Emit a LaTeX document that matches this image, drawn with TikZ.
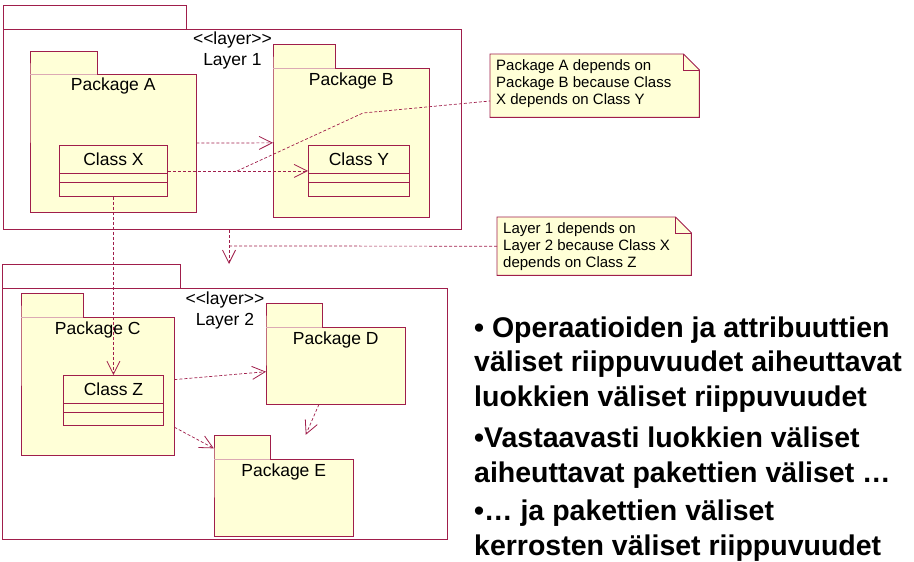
\documentclass[tikz,border=0pt]{standalone}
\usepackage{fontspec}
\setmainfont{Liberation Sans}
\usetikzlibrary{arrows.meta, positioning, calc, fit}
\definecolor{umlred}{RGB}{160,30,75}
\definecolor{umlfill}{RGB}{255,255,215}
\definecolor{tabfaint}{RGB}{220,170,180}

\begin{document}
\begin{tikzpicture}[
  x=1pt, y=-1pt,
  layerbox/.style={draw=umlred, line width=0.9pt, fill=white, inner sep=0pt, anchor=north west},
  pkgbox/.style={inner sep=0pt, anchor=north west},
  classbox/.style={draw=umlred, line width=0.9pt, fill=umlfill, inner sep=0pt, anchor=north west},
  outline/.style={draw=umlred, line width=0.9pt, fill=umlfill},
  tabline/.style={draw=tabfaint, line width=0.6pt},
  umltext/.style={font=\fontsize{17.5}{20.5}\selectfont, inner sep=0pt, anchor=base},
  notetext/.style={font=\fontsize{15}{17}\selectfont, align=left, inner sep=0pt, anchor=base west},
  dep/.style={umlred, dash pattern=on 3pt off 2pt, line width=0.7pt,
    -{Straight Barb[length=13pt, width=13pt, line width=0.8pt]}},
  noteline/.style={umlred, dash pattern=on 3pt off 2pt, line width=0.7pt},
  bullet/.style={font=\fontsize{28.5}{34.5}\selectfont\bfseries, align=left, inner sep=0pt, anchor=base west}
]
\useasboundingbox (0,0) rectangle (914,562);

% Layer frames
\node[layerbox, minimum width=183, minimum height=24] (tab-l1) at (3,5) {};
\node[layerbox, minimum width=458, minimum height=200] (l1) at (3,29) {};
\node[layerbox, minimum width=178, minimum height=24] (tab-l2) at (2,264) {};
\node[layerbox, minimum width=445, minimum height=251] (l2) at (2,288) {};

\node[umltext] at ([yshift=-16pt]l1.north) {\textless\kern0pt\textless\kern0pt layer\kern0pt\textgreater\kern0pt\textgreater};
\node[umltext] at ([yshift=-36.5pt]l1.north) {Layer 1};
\node[umltext] at ([yshift=-16.3pt]l2.north) {\textless\kern0pt\textless\kern0pt layer\kern0pt\textgreater\kern0pt\textgreater};
\node[umltext] at ([yshift=-37pt]l2.north) {Layer 2};

% Packages
\node[pkgbox, minimum width=67, minimum height=23] (tab-pA) at (30,51) {};
\node[pkgbox, minimum width=166, minimum height=138] (pA) at (30,74) {};
\node[pkgbox, minimum width=62, minimum height=24] (tab-pB) at (273,44) {};
\node[pkgbox, minimum width=156, minimum height=149] (pB) at (273,68) {};
\node[pkgbox, minimum width=62, minimum height=24] (tab-pC) at (21,293) {};
\node[pkgbox, minimum width=153, minimum height=138] (pC) at (21,317) {};
\node[pkgbox, minimum width=56, minimum height=24] (tab-pD) at (266,303) {};
\node[pkgbox, minimum width=139, minimum height=77] (pD) at (266,327) {};
\node[pkgbox, minimum width=56, minimum height=24] (tab-pE) at (214,435) {};
\node[pkgbox, minimum width=139, minimum height=77] (pE) at (214,459) {};
\node[fit=(tab-pE)(pE), inner sep=0pt] (pEall) {};

\foreach \p in {pA,pB,pC,pD,pE} {
  \draw[outline] (tab-\p.south west) |- (tab-\p.north east) |- (\p.north east)
    |- (\p.south west) -- cycle;
  \draw[tabline] (tab-\p.south west) -- (tab-\p.south east);
}

\node[umltext] at ([yshift=-16.5pt]pA.north) {Package A};
\node[umltext] at ([yshift=-17.5pt]pB.north) {Package B};
\node[umltext] at ([yshift=-17.5pt]pC.north) {Package C};
\node[umltext] at ([yshift=-17.5pt]pD.north) {Package D};
\node[umltext] at ([yshift=-17.5pt]pE.north) {Package E};

% Classes
\node[classbox, minimum width=108, minimum height=51] (cX) at (59,145) {};
\node[classbox, minimum width=101, minimum height=51] (cY) at (308,145) {};
\node[classbox, minimum width=100, minimum height=50] (cZ) at (63,375) {};

\foreach \c in {cX,cY,cZ} {
  \draw[umlred, line width=0.9pt] ([yshift=-28pt]\c.north west) -- ([yshift=-28pt]\c.north east);
  \draw[umlred, line width=0.9pt] ([yshift=-37pt]\c.north west) -- ([yshift=-37pt]\c.north east);
}

\node[umltext] at ([yshift=-20.7pt]cX.north) {Class X};
\node[umltext] at ([yshift=-20.7pt]cY.north) {Class Y};
\node[umltext] at ([yshift=-20.7pt]cZ.north) {Class Z};

% Notes
\node[pkgbox, minimum width=209, minimum height=63] (note1) at (490,54) {};
\node[pkgbox, minimum width=194, minimum height=58] (note2) at (497,217) {};
\foreach \n in {note1,note2} {
  \draw[outline] (\n.north west) -- ([xshift=-16pt]\n.north east)
    -- ([yshift=-16pt]\n.north east) |- (\n.south west) -- cycle;
  \draw[umlred, line width=0.9pt] ([xshift=-16pt]\n.north east)
    |- ([yshift=-16pt]\n.north east);
}
\node[notetext] at (496,104) {Package A depends on\\Package B because Class\\X depends on Class Y};
\node[notetext] at (503,267) {Layer 1 depends on\\Layer 2 because Class X\\depends on Class Z};

% Dependencies
\coordinate (n1a) at (237,171);
\coordinate (n1b) at (363,113);
\coordinate (n1c) at (490,101);
\coordinate (l12tip) at (229,264);
\coordinate (l12mid) at (229,246);

\draw[dep] (pA) -- (pB);
\draw[dep] (cX) -- (cY);
\draw[noteline] (n1a) -- (n1b) -- (n1c);
\draw[dep] (l1.south -| l12tip) -- (l12tip);
\draw[noteline] (note2.west) -- (l12mid);
\draw[dep] (cX) -- (cZ);
\draw[dep] (pC) -- (pD);
\draw[dep] (pC) -- (pEall);
\draw[dep] (pD) -- (pEall);

% Bullets
\node[bullet] (b1) at (474,406) {• Operaatioiden ja attribuuttien\\väliset riippuvuudet aiheuttavat\\luokkien väliset riippuvuudet};
\node[bullet] (b2) at (474,482) {•Vastaavasti luokkien väliset\\aiheuttavat pakettien väliset …};
\node[bullet] (b3) at (474,555) {•… ja pakettien väliset\\kerrosten väliset riippuvuudet};

\end{tikzpicture}
\end{document}
